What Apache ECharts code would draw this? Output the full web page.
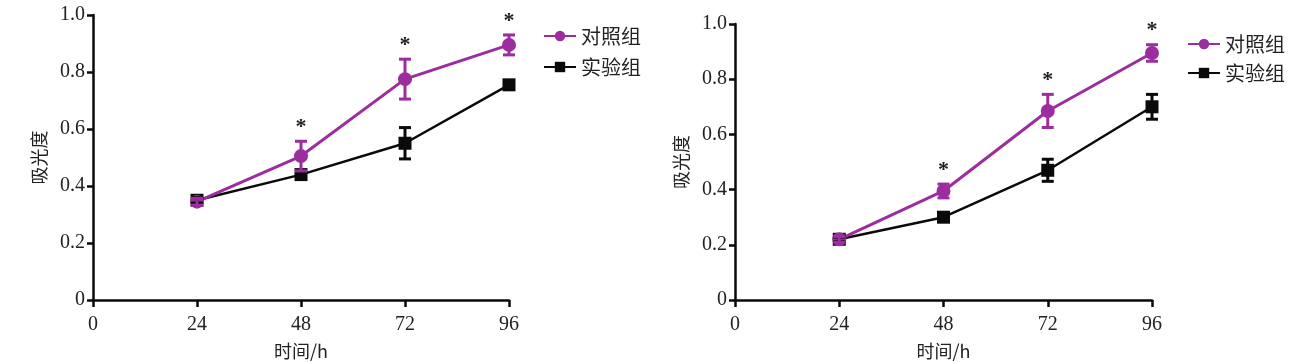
<!DOCTYPE html>
<html>
<head>
<meta charset="utf-8">
<script src="https://cdn.jsdelivr.net/npm/echarts@6/dist/echarts.min.js"></script>
<style>
html,body{margin:0;padding:0;background:#fff;}
#c{width:1306px;height:362px;}
</style>
</head>
<body>
<div id="c"></div>
<script>
// ---- data ----
const hours = [24, 48, 72, 96];
const xTicks = [0, 24, 48, 72, 96];
const yTicks = [0, 0.2, 0.4, 0.6, 0.8, 1.0];
const seriesNames = ['对照组', '实验组'];

// left panel
const leftControl = [0.345, 0.505, 0.775, 0.895];
const leftControlErr = [0.012, 0.052, 0.07, 0.035];
const leftExp = [0.35, 0.44, 0.55, 0.755];
const leftExpErr = [0.01, 0.008, 0.055, 0.008];

// right panel
const rightControl = [0.22, 0.395, 0.685, 0.895];
const rightControlErr = [0.01, 0.025, 0.06, 0.03];
const rightExp = [0.22, 0.30, 0.47, 0.70];
const rightExpErr = [0.008, 0.01, 0.04, 0.045];

const significant = [false, true, true, true];

const xTitle = '时间/h';
const yTitle = '吸光度';

// ---- styles ----
const PURPLE = '#9b2d9f';
const BLACK = '#0a0a0a';
const FONT = "'Liberation Serif', 'Noto Sans CJK SC', serif";
const CJK = "'Noto Sans CJK SC', 'Liberation Serif', serif";

const chart = echarts.init(document.getElementById('c'));

function pairs(vals){ return hours.map((h,i)=>[h, vals[i]]); }
function errData(vals, errs){ return hours.map((h,i)=>[h, vals[i]-errs[i], vals[i]+errs[i]]); }
function starData(vals, errs){
  const out = [];
  hours.forEach((h,i)=>{ if(significant[i]) out.push([h, vals[i]+errs[i]]); });
  return out;
}

function errSeries(idx, vals, errs, color){
  return {
    type:'custom', xAxisIndex:idx, yAxisIndex:idx, z:5, silent:true,
    data: errData(vals, errs),
    renderItem:function(params, api){
      const lo = api.coord([api.value(0), api.value(1)]);
      const hi = api.coord([api.value(0), api.value(2)]);
      const hw = 6;
      const st = {stroke:color, lineWidth:3};
      return {type:'group', children:[
        {type:'line', shape:{x1:lo[0], y1:lo[1], x2:hi[0], y2:hi[1]}, style:st},
        {type:'line', shape:{x1:lo[0]-hw, y1:lo[1], x2:lo[0]+hw, y2:lo[1]}, style:st},
        {type:'line', shape:{x1:hi[0]-hw, y1:hi[1], x2:hi[0]+hw, y2:hi[1]}, style:st}
      ]};
    }
  };
}

function starSeries(idx, vals, errs){
  return {
    type:'custom', xAxisIndex:idx, yAxisIndex:idx, z:6, silent:true,
    data: starData(vals, errs),
    renderItem:function(params, api){
      const p = api.coord([api.value(0), api.value(1)]);
      return {type:'text', style:{text:'*', x:p[0], y:p[1]-14, align:'center', verticalAlign:'middle',
        fill:'#222', font:'bold 22px ' + FONT}};
    }
  };
}

function lineSeries(idx, name, vals, color, symbol, size, width){
  return {
    type:'line', name:name, xAxisIndex:idx, yAxisIndex:idx, z:4,
    data: pairs(vals), symbol:symbol, symbolSize:size, showSymbol:true,
    lineStyle:{color:color, width:width}, itemStyle:{color:color, opacity:1},
    emphasis:{disabled:true}
  };
}

function xAxis(idx){
  return {
    type:'value', gridIndex:idx, min:0, max:96, interval:24,
    name:xTitle, nameLocation:'middle', nameGap:42,
    nameTextStyle:{fontFamily:CJK, fontSize:18, color:'#222'},
    axisLine:{show:true, onZero:false, lineStyle:{color:BLACK, width:2.5}},
    axisTick:{show:true, length:7, lineStyle:{color:BLACK, width:2.5}},
    axisLabel:{fontFamily:FONT, fontSize:20, color:'#222', margin:15},
    splitLine:{show:false}
  };
}
function yAxis(idx){
  return {
    type:'value', gridIndex:idx, min:0, max:1, interval:0.2,
    name:yTitle, nameLocation:'middle', nameGap:45, nameRotate:90,
    nameTextStyle:{fontFamily:CJK, fontSize:18, color:'#222'},
    axisLine:{show:true, onZero:false, lineStyle:{color:BLACK, width:2.5}},
    axisTick:{show:true, length:6, lineStyle:{color:BLACK, width:2.5}},
    axisLabel:{fontFamily:FONT, fontSize:20, color:'#222', margin:8,
      formatter:function(v){ return v===0 ? '0' : v.toFixed(1); }},
    splitLine:{show:false}
  };
}

function legend(left, top, gap){
  return {
    left:left, top:top, orient:'vertical', itemGap:gap, itemWidth:32, itemHeight:13,
    textStyle:{fontFamily:CJK, fontSize:20, color:'#222'},
    data:[seriesNames[0], seriesNames[1]],
    selectedMode:false
  };
}

chart.setOption({
  animation:false,
  backgroundColor:'#fff',
  grid:[
    {left:93, top:15, width:416, height:285, outerBoundsMode:'none', containLabel:false},
    {left:735, top:24, width:417, height:276, outerBoundsMode:'none', containLabel:false}
  ],
  xAxis:[xAxis(0), xAxis(1)],
  yAxis:[yAxis(0), yAxis(1)],
  legend:[legend(538, 21, 11), legend(1182, 29, 9)],
  series:[
    lineSeries(0, seriesNames[1], leftExp, BLACK, 'rect', 13, 2.5),
    errSeries(0, leftExp, leftExpErr, BLACK),
    lineSeries(0, seriesNames[0], leftControl, PURPLE, 'circle', 14, 3),
    errSeries(0, leftControl, leftControlErr, PURPLE),
    starSeries(0, leftControl, leftControlErr),
    lineSeries(1, seriesNames[1], rightExp, BLACK, 'rect', 13, 2.5),
    errSeries(1, rightExp, rightExpErr, BLACK),
    lineSeries(1, seriesNames[0], rightControl, PURPLE, 'circle', 14, 3),
    errSeries(1, rightControl, rightControlErr, PURPLE),
    starSeries(1, rightControl, rightControlErr)
  ]
});
</script>
</body>
</html>
